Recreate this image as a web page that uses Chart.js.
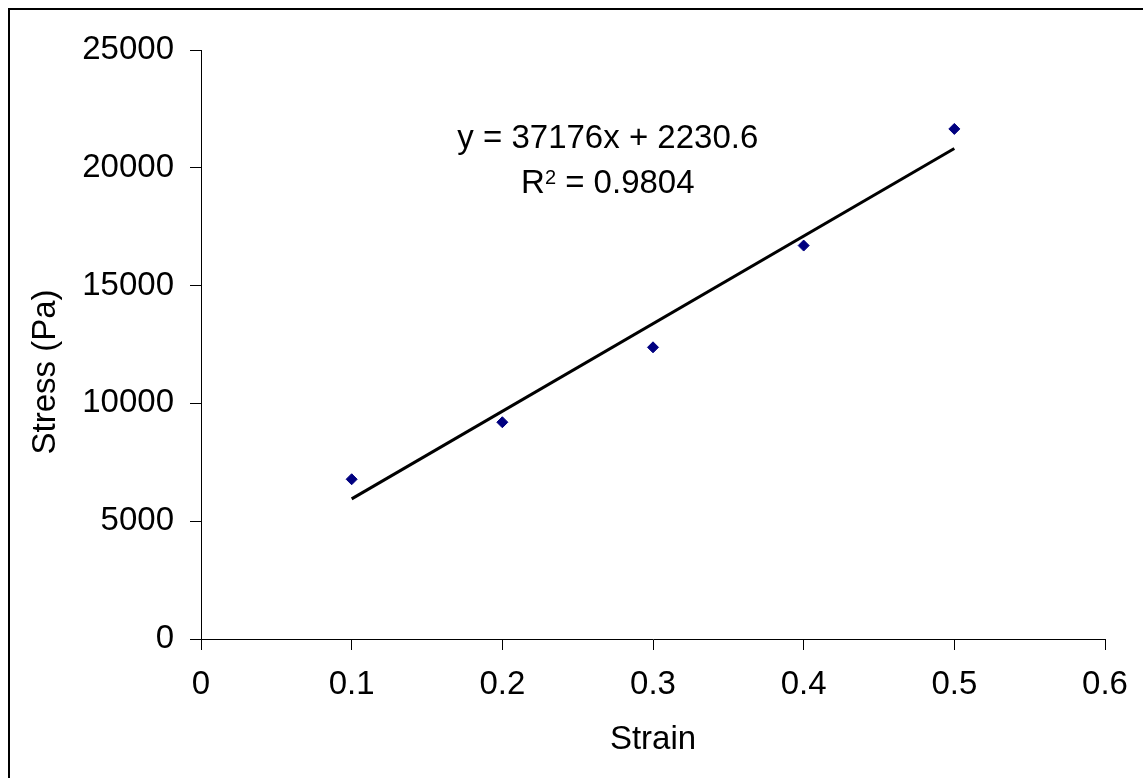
<!DOCTYPE html>
<html>
<head>
<meta charset="utf-8">
<title>Stress vs Strain</title>
<script src="https://cdn.jsdelivr.net/npm/chart.js@4"></script>
<style>
  html, body { margin: 0; padding: 0; background: #fff; }
  #wrap { width: 1143px; height: 778px; }
</style>
</head>
<body>
<div id="wrap"><canvas id="stressChart" width="1143" height="778"></canvas></div>
<script>
// valores
const strain = [0.1, 0.2, 0.3, 0.4, 0.5];
const stress = [6780, 9200, 12380, 16700, 21650];

// linea de tendencia (extremos en 0.1 y 0.5)
const trendStrain = [0.1, 0.5];
const trendStress = [5948, 20819];

// ticks de los ejes
const xTicks = [0, 0.1, 0.2, 0.3, 0.4, 0.5, 0.6];
const yTicks = [0, 5000, 10000, 15000, 20000, 25000];

// texto de la ecuacion y su posicion (en unidades de datos)
const eqLine1 = 'y = 37176x + 2230.6';
const eqLine2 = ['R', '2', ' = 0.9804'];
const eqPos = { x: 0.27, y1: 21222, y2: 19312 };

const FONT = "'Liberation Sans', Arial, sans-serif";
const SIZE = 33;
const ctx = document.getElementById('stressChart');

// fondo blanco y borde exterior
const frame = {
  id: 'frame',
  beforeDraw(chart) {
    const c = chart.ctx;
    c.save();
    c.fillStyle = '#fff';
    c.fillRect(0, 0, chart.width, chart.height);
    c.restore();
  },
  afterDraw(chart) {
    const c = chart.ctx;
    c.save();
    c.strokeStyle = '#000';
    c.lineWidth = 2;
    c.strokeRect(9, 9, chart.width + 20, chart.height + 20);
    c.restore();
  }
};

// ecuacion de la recta y R^2
const equation = {
  id: 'equation',
  afterDatasetsDraw(chart) {
    const { ctx: c, scales } = chart;
    const cx = scales.x.getPixelForValue(eqPos.x);
    const y1 = scales.y.getPixelForValue(eqPos.y1);
    const y2 = scales.y.getPixelForValue(eqPos.y2);
    c.save();
    c.fillStyle = '#000';
    c.textBaseline = 'middle';
    c.font = `${SIZE}px ${FONT}`;
    c.textAlign = 'center';
    c.fillText(eqLine1, cx, y1);

    // R con superindice
    c.textAlign = 'left';
    const wR = c.measureText(eqLine2[0]).width;
    const wRest = c.measureText(eqLine2[2]).width;
    c.font = `20px ${FONT}`;
    const wSup = c.measureText(eqLine2[1]).width;
    let x = cx - (wR + wSup + wRest) / 2;
    c.font = `${SIZE}px ${FONT}`;
    c.fillText(eqLine2[0], x, y2);
    x += wR;
    c.font = `20px ${FONT}`;
    c.fillText(eqLine2[1], x, y2 - 6);
    x += wSup;
    c.font = `${SIZE}px ${FONT}`;
    c.fillText(eqLine2[2], x, y2);
    c.restore();
  }
};

new Chart(ctx, {
  type: 'scatter',
  data: {
    datasets: [
      {
        label: 'Stress',
        data: strain.map((s, i) => ({ x: s, y: stress[i] })),
        pointStyle: 'rectRot',
        pointRadius: 5.5,
        pointHoverRadius: 5.5,
        backgroundColor: '#000080',
        borderColor: '#000080',
        borderWidth: 1,
        order: 1
      },
      {
        label: 'Trend',
        type: 'line',
        data: trendStrain.map((s, i) => ({ x: s, y: trendStress[i] })),
        borderColor: '#000',
        borderWidth: 3,
        pointRadius: 0,
        fill: false,
        order: 2
      }
    ]
  },
  options: {
    responsive: false,
    animation: false,
    devicePixelRatio: 1,
    layout: { padding: { top: 50, right: 38, bottom: 0, left: 0 } },
    plugins: {
      legend: { display: false },
      tooltip: { enabled: false }
    },
    scales: {
      x: {
        type: 'linear',
        min: 0,
        max: 0.6,
        afterBuildTicks: (axis) => { axis.ticks = xTicks.map(v => ({ value: v })); },
        afterFit: (axis) => { axis.height = 139; },
        ticks: {
          color: '#000',
          padding: 15,
          font: { family: FONT, size: SIZE },
          callback: (v) => String(v)
        },
        grid: { drawOnChartArea: false, tickLength: 11, color: '#000', tickColor: '#000' },
        border: { display: true, color: '#000', width: 1 },
        title: {
          display: true,
          text: 'Strain',
          color: '#000',
          font: { family: FONT, size: SIZE },
          padding: { top: 0, bottom: 18 }
        }
      },
      y: {
        type: 'linear',
        min: 0,
        max: 25000,
        afterBuildTicks: (axis) => { axis.ticks = yTicks.map(v => ({ value: v })); },
        afterFit: (axis) => { axis.width = 201; },
        ticks: {
          color: '#000',
          padding: 16,
          font: { family: FONT, size: SIZE },
          callback: (v) => String(v)
        },
        grid: { drawOnChartArea: false, tickLength: 11, color: '#000', tickColor: '#000' },
        border: { display: true, color: '#000', width: 1 },
        title: {
          display: true,
          text: 'Stress (Pa)      ',
          color: '#000',
          font: { family: FONT, size: SIZE },
          padding: { top: 26, bottom: 0 }
        }
      }
    }
  },
  plugins: [frame, equation]
});
</script>
</body>
</html>
